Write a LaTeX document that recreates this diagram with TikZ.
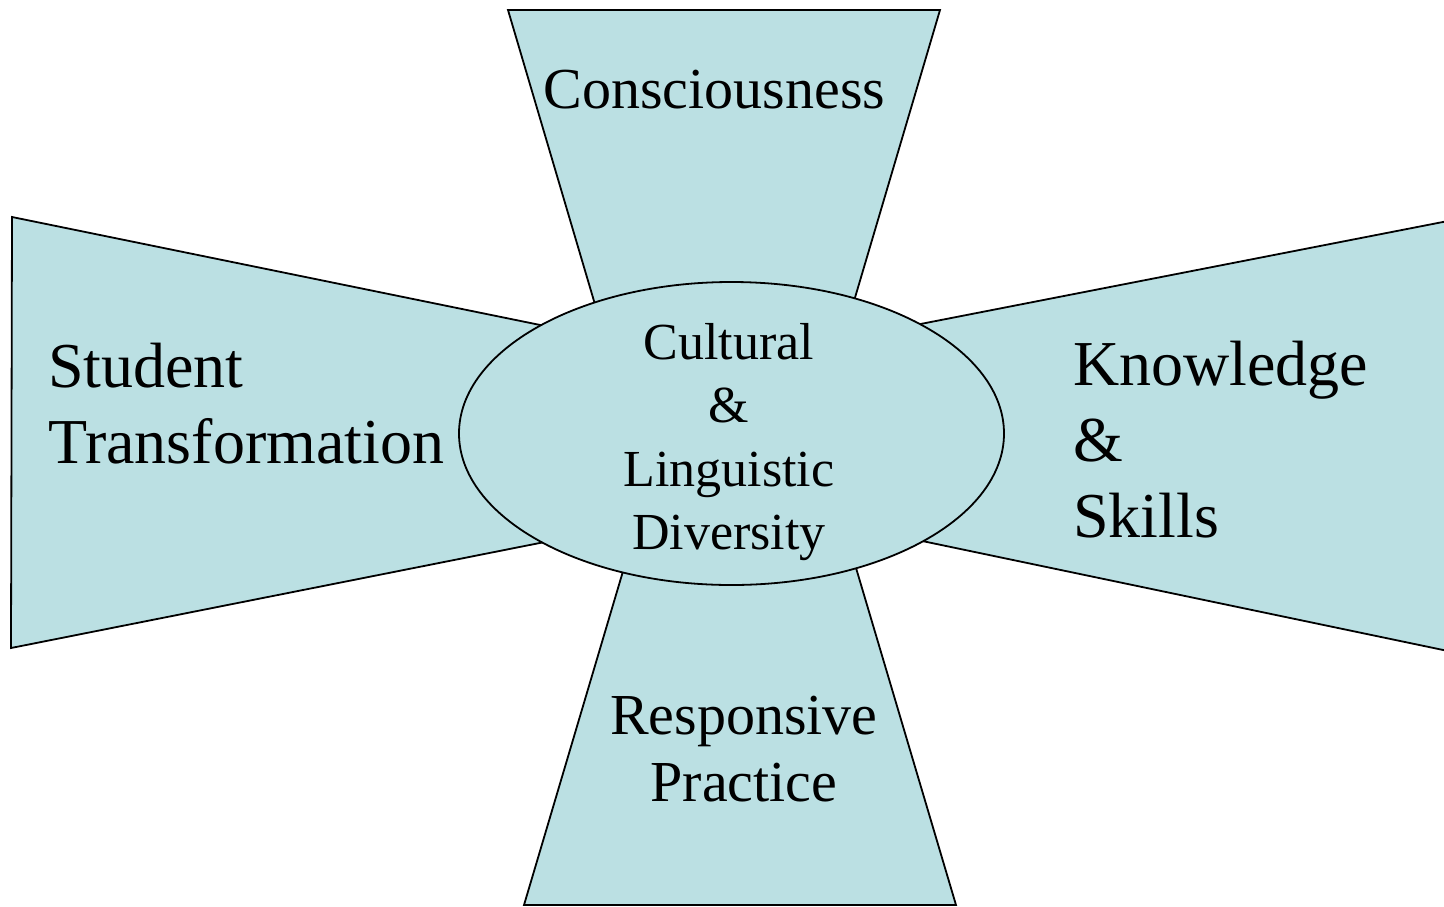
\documentclass[tikz,border=0pt]{standalone}
\usepackage{fontspec}
\setmainfont{Liberation Serif}
\usetikzlibrary{
    positioning % Para posicionar nós de forma relativa
}

\definecolor{azulclaro}{RGB}{187,224,227}

\begin{document}
\begin{tikzpicture}[x=1pt, y=-1pt] % Uma unidade = um ponto, eixo y para baixo

    % --- Definição de Estilos ---
    \tikzset{
        % Estilo para os braços (trapézios) da cruz
        arm_shape/.style={
            draw=black,
            fill=azulclaro,
            line width=1.8pt,
            line join=miter
        },
        % Estilo para a elipse central
        core_shape/.style={
            draw=black,
            fill=azulclaro,
            line width=1.8pt
        },
        % Estilo para os textos dos braços laterais
        side_label/.style={
            anchor=west,
            inner sep=0pt,
            align=left,
            font=\fontsize{64}{76}\selectfont
        },
        % Estilo para os textos dos braços de cima e de baixo
        vert_label/.style={
            inner sep=0pt,
            align=center,
            font=\fontsize{58}{67}\selectfont
        }
    }

    % --- Moldura da Figura ---
    \useasboundingbox (0,0) rectangle (1444,906);

    % --- Braços da Cruz ---
    \draw[arm_shape] (508,10) -- (940,10) -- (815,433) -- (633,433) -- cycle;       % cima
    \draw[arm_shape] (12,217) -- (731,364) -- (731,505) -- (11,648) -- cycle;       % esquerda
    \draw[arm_shape] (1448,221) -- (731,361) -- (731,501) -- (1448,651);            % direita
    \draw[arm_shape] (524,905) -- (956,905) -- (816,433) -- (664,433) -- cycle;     % baixo

    % --- Elipse Central ---
    \draw[core_shape] (731.5,433.5) ellipse [x radius=272.5, y radius=151.5];

    % --- Textos ---
    \node[align=center, inner sep=0pt, font=\fontsize{52}{63.5}\selectfont]
        (core) at (729,442) {Cultural\\\&\\Linguistic\\Diversity};
    \node[vert_label] (consciencia) at (714.5,90) {Consciousness};
    \node[vert_label] (pratica) at (744,749) {Responsive\\Practice};
    \node[side_label] (estudante) at (48,404) {Student\\Transformation};
    \node[side_label] (saberes) at (1073,440) {Knowledge\\\&\\Skills};

\end{tikzpicture}
\end{document}
